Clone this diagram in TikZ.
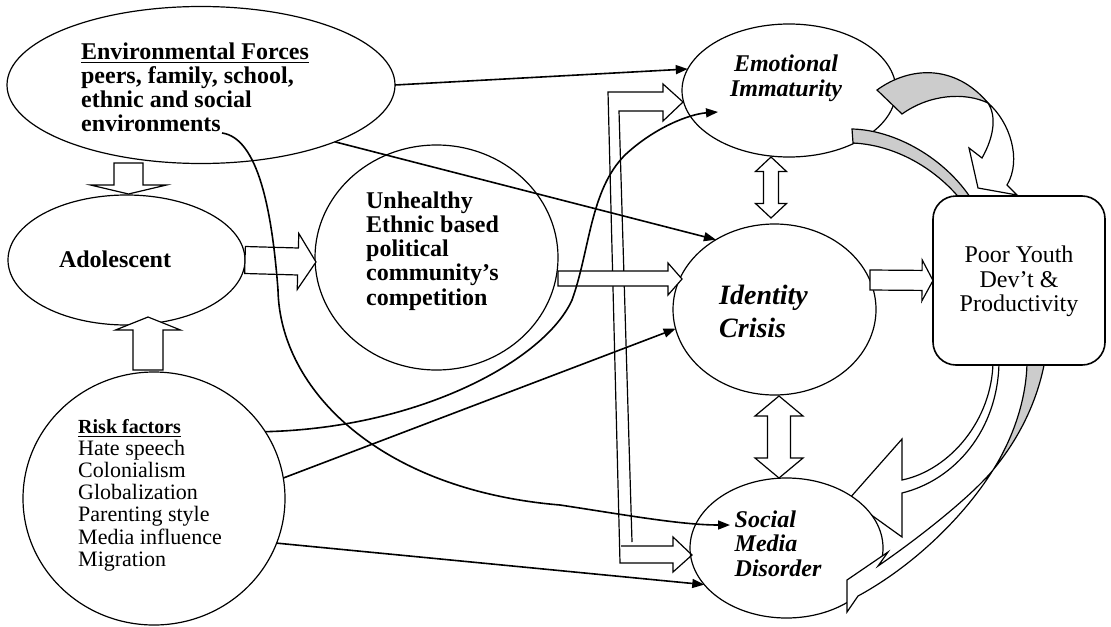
\documentclass[tikz,border=0pt]{standalone}
\usepackage{fontspec}
\setmainfont{Liberation Serif}
\usetikzlibrary{calc, arrows.meta, shapes.geometric}

% hollow block arrow: start, end, shaft half-width, head half-width, head length
\newcommand{\blockarrow}[5]{%
  \coordinate (ba-s) at (#1);
  \coordinate (ba-e) at (#2);
  \coordinate (ba-h) at ($(ba-e)!#5!(ba-s)$);
  \draw[fat] ($(ba-s)!#3!90:(ba-e)$) -- ($(ba-h)!#3!90:(ba-e)$) -- ($(ba-h)!#4!90:(ba-e)$)
    -- (ba-e) -- ($(ba-h)!#4!-90:(ba-e)$) -- ($(ba-h)!#3!-90:(ba-e)$)
    -- ($(ba-s)!#3!-90:(ba-e)$) -- cycle;}
% hollow arrow with a head at both ends
\newcommand{\twinarrow}[5]{%
  \coordinate (ta-s) at (#1);
  \coordinate (ta-e) at (#2);
  \coordinate (ta-h) at ($(ta-s)!#5!(ta-e)$);
  \coordinate (ta-k) at ($(ta-e)!#5!(ta-s)$);
  \draw[fat] (ta-s) -- ($(ta-h)!#4!90:(ta-e)$) -- ($(ta-h)!#3!90:(ta-e)$)
    -- ($(ta-k)!#3!90:(ta-e)$) -- ($(ta-k)!#4!90:(ta-e)$) -- (ta-e)
    -- ($(ta-k)!#4!-90:(ta-e)$) -- ($(ta-k)!#3!-90:(ta-e)$)
    -- ($(ta-h)!#3!-90:(ta-e)$) -- ($(ta-h)!#4!-90:(ta-e)$) -- cycle;}

\begin{document}
\begin{tikzpicture}[x=0.5pt, y=-0.5pt,
    blob/.style={ellipse, draw, fill=white, line width=0.6pt, inner sep=0pt, outer sep=0pt},
    panel/.style={draw, fill=white, rounded corners=11.5pt, line width=0.8pt,
                  inner sep=0pt, outer sep=0pt},
    lbl/.style={inner sep=0pt, outer sep=0pt, align=left},
    fat/.style={draw, fill=white, line width=0.6pt, line join=miter},
    ribbon/.style={draw, fill=gray!40, line width=0.6pt},
    link/.style={line width=0.8pt, -{Triangle[length=6pt, width=4.5pt]}}
  ]
  \useasboundingbox (0,0) rectangle (1111,626);
  % curved arrow that slides under Social Media Disorder
  \draw[fat] (993,362) .. controls (992,420) and (950,470) .. (902,480) -- (902,439)
    -- (849,499) -- (902,537) -- (902,493) .. controls (955,480) and (998,430) .. (999,362) -- cycle;
  % bubbles
  \node[blob, minimum width=194pt, minimum height=78.5pt] (env) at (201,85) {};
  \node[blob, minimum width=118.5pt, minimum height=65pt] (ado) at (126.5,260) {};
  \node[blob, minimum width=131pt, minimum height=126.5pt] (risk) at (154,498.5) {};
  \node[blob, minimum width=121.5pt, minimum height=112.5pt] (unh) at (436.5,257.5) {};
  \node[blob, minimum width=107pt, minimum height=66.5pt] (emo) at (789,90.5) {};
  \node[blob, minimum width=101.5pt, minimum height=85.5pt] (iden) at (774.5,309.5) {};
  \node[blob, minimum width=96.5pt, minimum height=70pt] (soc) at (786.5,548) {};
  % twisted ribbons round the outcome box
  \draw[ribbon] (877,90) .. controls (910,66) and (955,64) .. (988,103)
    .. controls (965,92) and (930,94) .. (902,114) -- cycle;
  \draw[fat] (988,103) .. controls (1010,122) and (1022,160) .. (1007,185) -- (1017,195)
    -- (978,188) -- (969,148) -- (982,158) .. controls (995,135) and (996,115) .. (988,103) -- cycle;
  \draw[ribbon] (852,129) .. controls (895,130) and (945,158) .. (972,200) -- (961,200)
    .. controls (935,168) and (895,145) .. (853,143) -- cycle;
  \draw[ribbon] (1027,360) .. controls (1027,400) and (1012,440) .. (993,470)
    .. controls (1012,447) and (1036,410) .. (1045,360) -- cycle;
  \draw[fat] (993,470) .. controls (975,492) and (930,530) .. (878,566) -- (888,552)
    -- (847,580) -- (847,612) -- (858,596) .. controls (915,565) and (965,515) .. (993,470) -- cycle;
  \node[panel, minimum width=86pt, minimum height=84.5pt] (poor) at (1019,280.5) {};
  % labels
  \node[lbl, font=\bfseries\fontsize{12}{12}\selectfont] (envtxt) at (195,87)
    {\underline{Environmental Forces}\\peers, family, school,\\ethnic and social\\environments};
  \node[lbl, font=\bfseries\fontsize{12}{12}\selectfont] (adotxt) at (115,259) {Adolescent};
  \node[lbl, font=\bfseries\fontsize{12}{12.1}\selectfont] (unhtxt) at (432.5,251)
    {Unhealthy\\Ethnic based\\political\\community’s\\competition};
  \node[lbl, font=\fontsize{11}{11.1}\selectfont] (risktxt) at (150,495)
    {{\fontsize{10}{11.1}\selectfont\bfseries\underline{Risk factors}}\\Hate speech\\Colonialism\\
     Globalization\\Parenting style\\Media influence\\Migration};
  \node[lbl, align=center, font=\bfseries\itshape\fontsize{12}{12.5}\selectfont] (emotxt)
    at (786,78.5) {Emotional\\Immaturity};
  \node[lbl, font=\bfseries\itshape\fontsize{14}{16.5}\selectfont] (identxt) at (763.5,311.5)
    {Identity\\Crisis};
  \node[lbl, font=\bfseries\itshape\fontsize{12}{12.25}\selectfont] (soctxt) at (778,543.5)
    {Social\\Media\\Disorder};
  \node[lbl, align=center, font=\fontsize{12}{12.25}\selectfont] (poortxt) at (1019,281.5)
    {Poor Youth\\Dev’t \&\\Productivity};
  \coordinate (envtail) at (222,133);
  \coordinate (emotip) at (718,112);
  \coordinate (soctip) at (730,525);
  % block arrows
  \blockarrow{$(ado.north)+(2,-32)$}{$(ado.north)+(2,-1)$}{7.25pt}{19pt}{4.5pt}
  \blockarrow{$(risk.north)+(-6,-2)$}{$(ado.south)+(21.5,-8)$}{7.5pt}{16.25pt}{6.5pt}
  \blockarrow{ado.east}{$(unh.west)+(1,4.5)$}{6.75pt}{14pt}{9pt}
  \blockarrow{$(iden.east)+(-6,-29.5)$}{poor.west}{5pt}{10.25pt}{5.5pt}
  \twinarrow{$(emo.south)+(-18,0)$}{$(iden.north)+(-3.5,-6)$}{3.75pt}{7.75pt}{7.25pt}
  \twinarrow{$(iden.south)+(4.5,1)$}{$(soc.north)+(-7.5,0)$}{5.75pt}{12pt}{10pt}
  % split tube out of the competition bubble
  \begin{scope}[shift={(unh.east)}]
    \draw[fat, fill=none] (74,284.5) -- (61,-146.5) -- (105,-146.5) -- (105,-136.5) -- (125,-155.5)
      -- (105,-173.5) -- (105,-165.5) -- (50,-165.5) -- (62,305.5) -- (115,305.5) -- (115,314.5)
      -- (134,297.5) -- (115,279.5) -- (115,288.5) -- (63,288.5);
    \draw[fat] (0,13.5) -- (110,13.5) -- (110,5.5) -- (124,21.5) -- (110,37.5) -- (110,28.5)
      -- (0,28.5) -- cycle;
  \end{scope}
  % influence lines
  \draw[link] (env.0) -- (emo.168);
  \draw[link] (env.-23) -- (iden.130);
  \draw[link] (envtail) .. controls (258,138) and (272,210) .. (278,290)
    .. controls (280,390) and (380,490) .. (560,505) .. controls (620,514) and (680,525) .. (soctip);
  \draw[link] (risk.31) .. controls (420,428) and (545,360) .. (572,300)
    .. controls (590,250) and (590,190) .. (625,155) .. controls (655,127) and (690,114) .. (emotip);
  \draw[link] (risk.9) -- (iden.191);
  \draw[link] (risk.-20) -- (soc.204);
\end{tikzpicture}
\end{document}
